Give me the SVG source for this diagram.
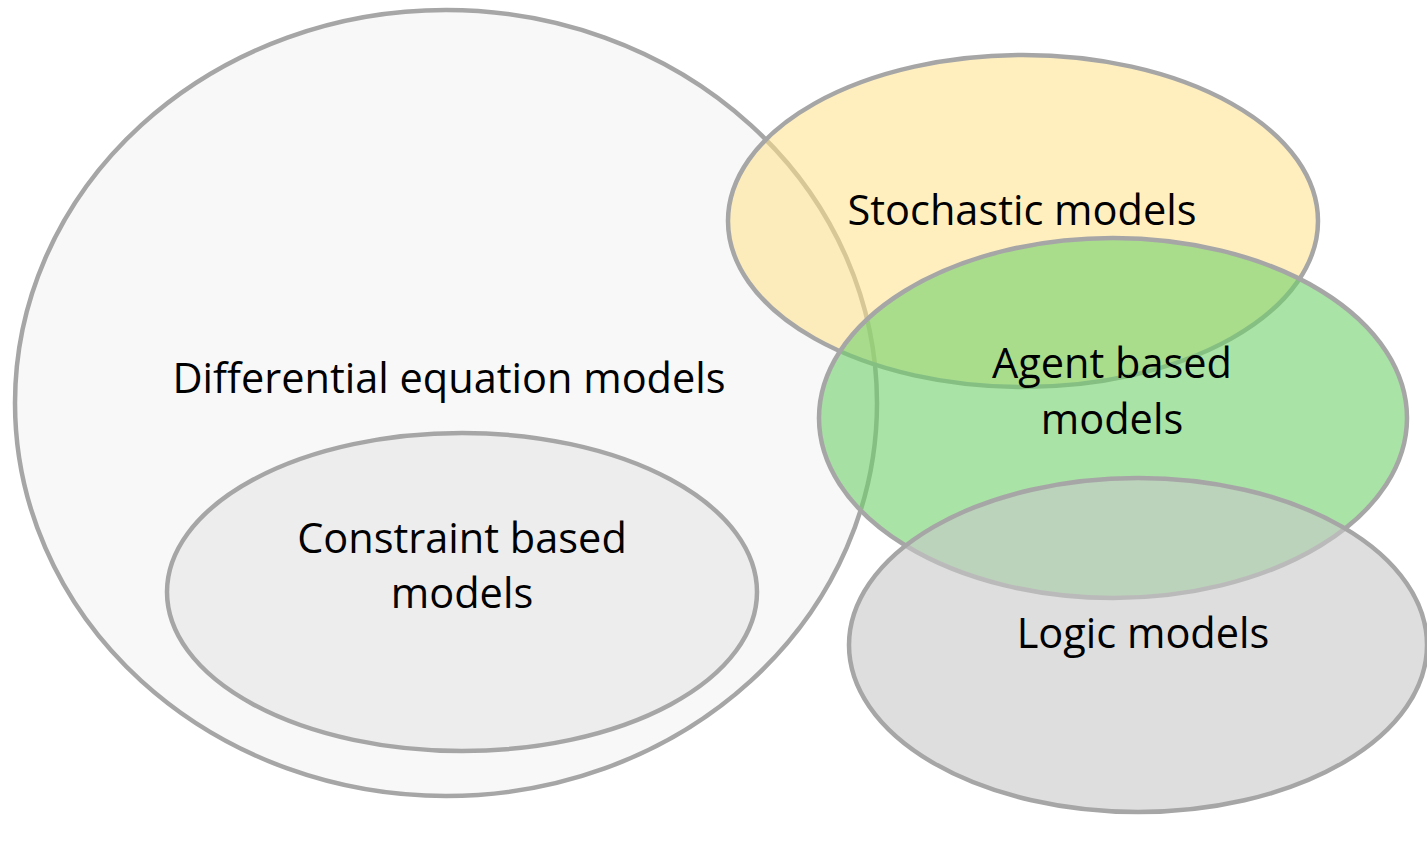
<svg xmlns="http://www.w3.org/2000/svg" width="1427" height="842" viewBox="0 0 1427 842">
<style>
.e{stroke:#a6a6a6;stroke-width:4.5}
.t{font-family:"Open Sans","Liberation Sans",sans-serif;font-size:41.5px;fill:#000;text-anchor:middle}
</style>
<rect width="1427" height="842" fill="#ffffff"/>
<g id="differential">
<ellipse class="e" cx="446" cy="403" rx="431" ry="393" fill="#f8f8f8"/>
<text class="t" x="449" y="393">Differential equation models</text>
</g>
<g id="constraint">
<ellipse class="e" cx="462" cy="592" rx="295" ry="159" fill="#ededed"/>
<text class="t" x="462" y="553">Constraint based</text>
<text class="t" x="462" y="608">models</text>
</g>
<g id="stochastic">
<ellipse class="e" cx="1023" cy="221" rx="295" ry="166" fill="#ffe28a" fill-opacity="0.55"/>
<text class="t" x="1022" y="225">Stochastic models</text>
</g>
<g id="agent">
<ellipse class="e" cx="1113" cy="418" rx="294" ry="180" fill="#6fd16a" fill-opacity="0.6"/>
<text class="t" x="1112" y="378">Agent based</text>
<text class="t" x="1112" y="434">models</text>
</g>
<g id="logic">
<ellipse class="e" cx="1138" cy="645" rx="289" ry="167" fill="#c8c8c8" fill-opacity="0.6"/>
<text class="t" x="1143" y="648">Logic models</text>
</g>
<g id="connectors"/>
</svg>
